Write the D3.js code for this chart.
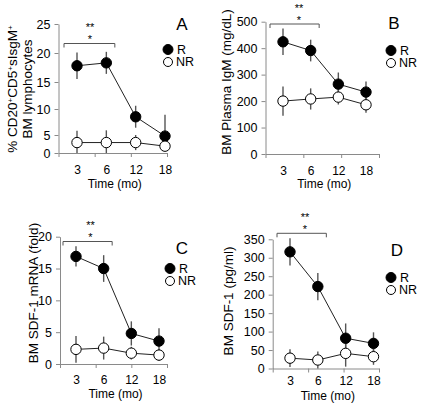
<!DOCTYPE html>
<html><head><meta charset="utf-8">
<script src="https://cdn.jsdelivr.net/npm/d3@7"></script>
<style>
body{margin:0;background:#fff;}
svg{display:block;font-family:"Liberation Sans",Arial,sans-serif;}
</style></head><body>
<svg id="c" width="424" height="408"></svg>
<script>
// ---- data ----
const months = ["3","6","12","18"];

const ticksA = [0,5,10,15,20,25];
const rA = [17.8, 18.3, 8.5, 4.7];
const rAErr = [2.3, 1.9, 2.1, 4.2];
const nrA = [2.9, 2.9, 2.9, 1.9];
const nrAErr = [2.9, 3.0, 2.1, 1.3];

const ticksB = [0,100,200,300,400,500];
const rB = [424, 391, 264, 234];
const rBErr = [50, 41, 44, 40];
const nrB = [200, 208, 215, 186];
const nrBErr = [55, 40, 28, 30];

const ticksC = [0,5,10,15,20];
const rC = [16.9, 15.0, 4.8, 3.6];
const rCErr = [1.6, 2.1, 1.9, 2.0];
const nrC = [2.3, 2.5, 1.7, 1.4];
const nrCErr = [2.1, 1.8, 1.0, 0.9];

const ticksD = [0,50,100,150,200,250,300,350];
const rD = [316, 222, 82, 68];
const rDErr = [37, 37, 40, 30];
const nrD = [28, 23, 41, 32];
const nrDErr = [24, 23, 36, 22];

const seriesNames = ["R","NR"];

// ---- layout ----
const panels = [
  {letter:"A", ticks:ticksA, yDomain:[0,5,10,15,20,25], yRange:[153,135,109,82,53,24],
   x0:58.5, x1:167, pts:[77,165], r:rA, rErr:rAErr, nr:nrA, nrErr:nrAErr,
   letterPos:[182,30], legend:[168,49.5], bracketY:43.5, starX:90,
   ylab:[["% CD20","+","CD5","+","sIsgM","+"],["BM lymphocytes"]], ylabX:[12,27], ylabY:89,
   timeY:188, xPad:12},
  {letter:"B", ticks:ticksB, yDomain:[0,500], yRange:[154,21.7],
   x0:265.5, x1:379, pts:[283,366], r:rB, rErr:rBErr, nr:nrB, nrErr:nrBErr,
   letterPos:[394,29], legend:[391,50.5], bracketY:24, starX:299,
   ylab:[["BM Plasma IgM (mg/dL)"]], ylabX:[226], ylabY:82, timeY:187.5, xPad:12},
  {letter:"C", ticks:ticksC, yDomain:[0,20], yRange:[364,236.7],
   x0:60, x1:167, pts:[76,159], r:rC, rErr:rCErr, nr:nrC, nrErr:nrCErr,
   letterPos:[182,254], legend:[170,268.5], bracketY:241.5, starX:90.5,
   ylab:[["BM SDF-1 mRNA (fold)"]], ylabX:[33], ylabY:293, timeY:397.5, xPad:11},
  {letter:"D", ticks:ticksD, yDomain:[0,350], yRange:[368.5,239.3],
   x0:272.7, x1:379, pts:[290,373.5], r:rD, rErr:rDErr, nr:nrD, nrErr:nrDErr,
   letterPos:[397,256], legend:[391,277.5], bracketY:233.3, starX:305,
   ylab:[["BM SDF-1 (pg/ml)"]], ylabX:[228], ylabY:301, timeY:399.5, xPad:8}
];

const svg = d3.select("#c");
const AX = "#8a8a8a";
const FF = "Liberation Sans, Arial, sans-serif";

panels.forEach(p => {
  const g = svg.append("g");
  const y = d3.scaleLinear().domain(p.yDomain).range(p.yRange);
  const x = d3.scalePoint().domain(months).range(p.pts);
  const axisY = p.yRange[0];

  // y axis
  const ya = g.append("g").attr("transform",`translate(${p.x0},0)`)
    .call(d3.axisLeft(y).tickValues(p.ticks).tickSize(4).tickSizeOuter(0).tickPadding(4));
  ya.select(".domain").attr("stroke",AX);
  ya.selectAll(".tick line").attr("stroke",AX);
  ya.selectAll("text").attr("font-size",12.5).attr("fill","#000").attr("font-family",FF);

  // x axis line with boundary ticks
  const xb = d3.scaleLinear().domain([0,3]).range([p.x0,p.x1]);
  const xa = g.append("g").attr("transform",`translate(0,${axisY})`)
    .call(d3.axisBottom(xb).ticks(3).tickSize(4).tickSizeOuter(0).tickFormat(""));
  xa.select(".domain").attr("stroke",AX);
  xa.selectAll(".tick line").attr("stroke",AX);

  // x labels
  const xl = g.append("g").attr("transform",`translate(0,${axisY})`)
    .call(d3.axisBottom(x).tickSize(0).tickPadding(p.xPad));
  xl.select(".domain").remove();
  xl.selectAll("text").attr("font-size",12).attr("fill","#000").attr("font-family",FF);

  // axis titles
  g.append("text").attr("x",(p.x0+p.x1)/2+2).attr("y",p.timeY)
    .attr("text-anchor","middle").attr("font-size",12).text("Time (mo)");
  p.ylab.forEach((parts,i) => {
    const t = g.append("text")
      .attr("transform",`translate(${p.ylabX[i]+4.5},${p.ylabY}) rotate(-90)`)
      .attr("text-anchor","middle").attr("font-size",13.5);
    parts.forEach(s => {
      if (s === "+") t.append("tspan").attr("font-size",8).attr("baseline-shift","super").text("+");
      else t.append("tspan").text(s);
    });
  });

  // bracket + stars
  const bx0 = x("3") - 13, bx1 = x("6") + 8.5;
  g.append("path")
    .attr("d",`M${bx0},${p.bracketY+4}V${p.bracketY}H${bx1}V${p.bracketY+4}`)
    .attr("fill","none").attr("stroke","#555").attr("stroke-width",1);
  g.append("text").attr("x",p.starX).attr("y",p.bracketY-12.5).attr("text-anchor","middle")
    .attr("font-size",11).text("**");
  g.append("text").attr("x",p.starX).attr("y",p.bracketY-0.5).attr("text-anchor","middle")
    .attr("font-size",11).text("*");

  // panel letter
  g.append("text").attr("x",p.letterPos[0]).attr("y",p.letterPos[1]).attr("text-anchor","middle")
    .attr("font-size",17).text(p.letter);

  // series
  const series = [
    {name:"R", vals:p.r, err:p.rErr, fill:"#000"},
    {name:"NR", vals:p.nr, err:p.nrErr, fill:"#fff"}
  ];
  series.forEach(s => {
    const d = months.map((m,i) => ({m, v:s.vals[i], e:s.err[i]}));
    g.append("g").selectAll("line").data(d).join("line")
      .attr("x1",q=>x(q.m)).attr("x2",q=>x(q.m))
      .attr("y1",q=>y(Math.max(0,q.v-q.e))).attr("y2",q=>y(q.v+q.e))
      .attr("stroke","#555").attr("stroke-width",1.4);
  });
  series.forEach(s => {
    const d = months.map((m,i) => ({m, v:s.vals[i]}));
    g.append("path").datum(d)
      .attr("d", d3.line().x(q=>x(q.m)).y(q=>y(q.v)))
      .attr("fill","none").attr("stroke","#222").attr("stroke-width",1);
  });
  series.forEach(s => {
    const d = months.map((m,i) => ({m, v:s.vals[i]}));
    g.append("g").selectAll("circle").data(d).join("circle")
      .attr("cx",q=>x(q.m)).attr("cy",q=>y(q.v)).attr("r",5.2)
      .attr("fill",s.fill).attr("stroke","#000").attr("stroke-width",1);
  });

  // legend
  seriesNames.forEach((n,i) => {
    const ly = p.legend[1] + i*12.5;
    g.append("circle").attr("cx",p.legend[0]).attr("cy",ly).attr("r", i===0?5:4.5)
      .attr("fill", i===0?"#000":"#fff").attr("stroke","#000").attr("stroke-width",1);
    g.append("text").attr("x",p.legend[0]+ (i===0?9:8)).attr("y",ly+4.3)
      .attr("font-size",12.5).text(n);
  });
});
</script>
</body></html>
